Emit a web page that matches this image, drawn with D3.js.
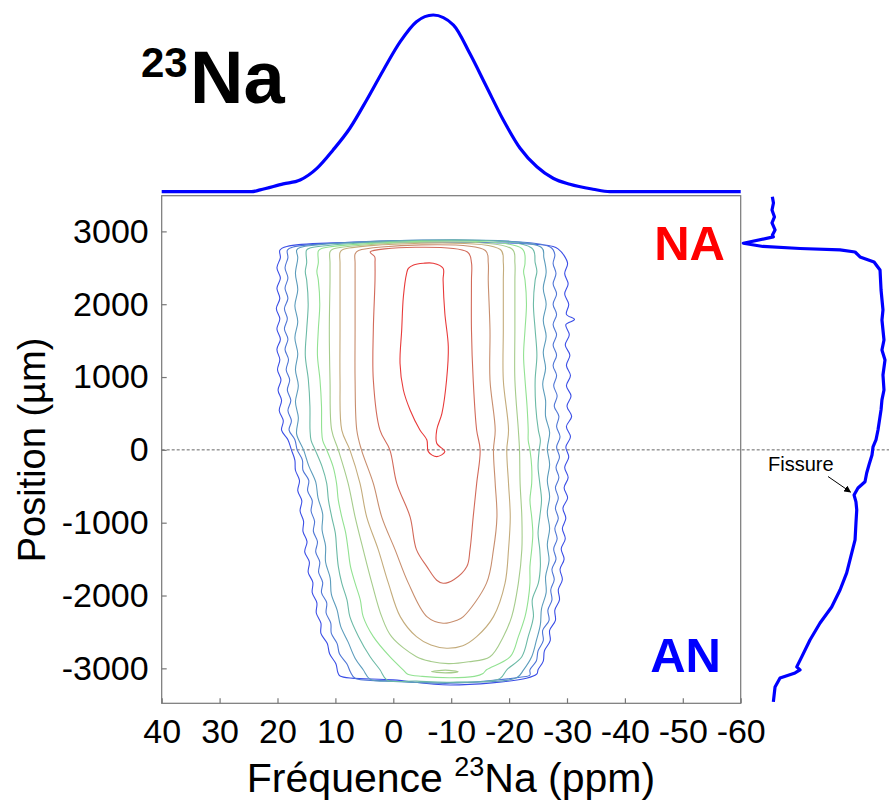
<!DOCTYPE html>
<html><head><meta charset="utf-8">
<script src="https://cdn.jsdelivr.net/npm/d3@7"></script>
<style>body{margin:0;background:#fff} svg{display:block} text{font-family:"Liberation Sans",Arial,sans-serif}</style>
</head><body><svg id="c" width="889" height="801"></svg>
<script>
// ---------- DATA ----------
const xTicks = [40, 30, 20, 10, 0, -10, -20, -30, -40, -50, -60];
const yTicks = [3000, 2000, 1000, 0, -1000, -2000, -3000];

// top projection (23Na spectrum): chemical shift (ppm) vs intensity
const specPpm = [40, 24.5, 23.0, 19.0, 16.1, 13.2, 10.4, 7.5, 4.6, 1.7, -1.2, -4.0, -6.9, -10.4, -13.2, -16.1, -19.0, -21.9, -24.8, -27.6, -30.5, -34.5, -37.4, -60];
const specInt = [0, 0, 1.0, 4.4, 6.6, 13.2, 23.6, 35.9, 51.9, 68.9, 84.9, 96.2, 100, 94.3, 78.3, 59.4, 40.6, 24.6, 14.1, 7.6, 4.2, 1.4, 0, 0];

// right projection: position (µm) vs integrated intensity
const profPos = [3476,3390,3294,3198,3116,3020,2951,2924,2837,2793,2765,2745,2717,2649,2580,2470,2195,1921,1783,1509,1372,1234,1028,822,686,549,273,136,40,-70,-209,-317,-437,-523,-619,-715,-825,-1004,-1237,-1690,-1924,-2157,-2377,-2610,-2843,-2980,-3022,-3063,-3132,-3255,-3461];
const profInt = [0.3,1.3,0,2.2,0,2.7,0.4,1.2,-25.4,-8.0,24.8,60.2,73.5,77.9,90.3,95.6,96.5,98.2,97.3,99.1,97.3,100,98.2,99.1,97.3,96.5,93.8,92.0,89.4,88.5,85.8,83.8,82.3,76.1,72.6,74.3,75.0,74.3,73.5,66.1,60.2,52.8,42.5,33.6,26.3,21.9,24.8,20.4,7.1,2.7,1.2];

// contour lines, outermost (level 1) to innermost (level 10): [ppm, µm]
const contour1 = [[18.4,2793],[19.6,2740],[19.5,2640],[20.1,2500],[19.5,2360],[20.1,2220],[19.6,2080],[20.2,1940],[19.6,1800],[20.1,1660],[19.5,1520],[20.1,1380],[19.6,1240],[20.0,1100],[19.4,960],[19.9,820],[19.3,680],[19.7,540],[19.0,400],[19.3,270],[18.2,140],[17.6,0],[17.0,-140],[16.9,-280],[16.2,-420],[16.5,-560],[15.8,-700],[16.1,-840],[15.5,-980],[15.6,-1120],[14.9,-1260],[15.3,-1400],[14.5,-1540],[14.7,-1680],[13.9,-1820],[14.0,-1960],[13.2,-2100],[13.3,-2240],[12.5,-2380],[12.5,-2520],[11.4,-2660],[11.0,-2800],[9.9,-2940],[9.6,-3050],[9.2,-3105],[0,-3159],[-9.8,-3228],[-23.0,-3136],[-24.8,-3077],[-25.0,-3020],[-25.9,-2900],[-26.1,-2760],[-27.1,-2620],[-27.0,-2480],[-28.0,-2340],[-27.9,-2200],[-28.7,-2060],[-28.5,-1920],[-29.2,-1780],[-28.8,-1640],[-29.5,-1500],[-29.0,-1360],[-29.7,-1220],[-29.2,-1080],[-29.8,-940],[-29.3,-800],[-30.1,-660],[-29.5,-520],[-30.2,-380],[-29.6,-240],[-30.3,-100],[-29.8,40],[-30.6,180],[-29.9,320],[-30.8,460],[-30.0,600],[-30.7,740],[-29.9,880],[-30.6,1020],[-29.9,1160],[-30.5,1300],[-29.7,1440],[-30.4,1580],[-29.8,1720],[-31.3,1790],[-29.9,1860],[-30.3,2000],[-29.6,2140],[-30.2,2280],[-29.6,2420],[-30.1,2560],[-29.4,2680],[-28.6,2750],[-27.6,2793]];
const contour2 = [[17.3,2786],[18.3,2740],[18.2,2640],[18.7,2500],[18.2,2360],[18.7,2220],[18.2,2080],[18.8,1940],[18.3,1800],[18.8,1660],[18.2,1520],[18.7,1380],[18.1,1240],[18.5,1100],[17.9,960],[18.3,820],[17.7,680],[18.2,540],[17.6,400],[18.0,270],[17.0,140],[16.6,0],[15.7,-140],[15.6,-280],[14.6,-420],[14.8,-560],[14.0,-700],[14.2,-840],[13.6,-980],[13.8,-1120],[13.1,-1260],[13.4,-1400],[12.7,-1540],[12.9,-1680],[12.2,-1820],[12.4,-1960],[11.5,-2100],[11.6,-2240],[10.8,-2380],[10.7,-2520],[9.7,-2660],[9.3,-2800],[8.0,-2940],[7.4,-3050],[6.6,-3136],[0,-3173],[-9.8,-3205],[-21.9,-3122],[-23.6,-3091],[-23.6,-3020],[-24.7,-2900],[-25.0,-2760],[-25.9,-2620],[-25.8,-2480],[-26.9,-2340],[-26.7,-2200],[-27.4,-2060],[-27.2,-1920],[-27.8,-1780],[-27.4,-1640],[-28.1,-1500],[-27.7,-1360],[-28.3,-1220],[-27.9,-1080],[-28.5,-940],[-28.0,-800],[-28.5,-660],[-28.0,-520],[-28.6,-380],[-28.1,-240],[-28.7,-100],[-28.2,40],[-28.8,180],[-28.2,320],[-28.6,460],[-27.8,600],[-28.3,740],[-27.7,880],[-28.2,1020],[-27.6,1160],[-28.2,1300],[-27.6,1440],[-28.2,1580],[-27.6,1720],[-28.2,1860],[-27.6,2000],[-28.2,2140],[-27.6,2280],[-28.1,2420],[-27.6,2560],[-27.9,2680],[-27.1,2786]];
const contour3 = [[16.1,2779],[16.7,2740],[16.5,2640],[16.9,2420],[16.5,2200],[17.0,1980],[16.5,1760],[17.0,1540],[16.5,1320],[16.9,1100],[16.4,880],[16.9,660],[16.4,440],[16.7,220],[15.5,0],[14.6,-220],[13.4,-440],[13.0,-660],[12.2,-880],[12.3,-1100],[11.7,-1320],[11.7,-1540],[10.9,-1760],[10.7,-1980],[9.7,-2200],[9.1,-2420],[7.8,-2640],[6.6,-2860],[5.2,-3020],[4.0,-3150],[0,-3180],[-9.8,-3195],[-21.3,-3130],[-22.5,-3020],[-23.9,-2840],[-24.7,-2620],[-25.4,-2400],[-25.6,-2180],[-26.4,-1960],[-26.3,-1740],[-26.9,-1520],[-26.6,-1300],[-27.0,-1080],[-26.6,-860],[-27.0,-640],[-26.6,-420],[-27.0,-200],[-26.6,20],[-27.0,240],[-26.3,460],[-26.3,680],[-25.8,900],[-26.3,1120],[-25.9,1340],[-26.4,1560],[-25.9,1780],[-26.4,2000],[-25.9,2220],[-26.4,2440],[-26.0,2640],[-25.6,2779]];
const contour4 = [[14.4,2772],[15.0,2740],[14.96,2570],[15.2,2450],[14.96,2330],[14.7,2000],[14.96,1650],[15.2,1300],[14.67,960],[14.4,600],[14.38,270],[14.2,130],[13.5,0],[12.3,-230],[11.5,-460],[11.2,-690],[10.64,-920],[10.0,-1150],[9.78,-1370],[9.5,-1600],[8.9,-1830],[8.0,-2060],[7.5,-2290],[6.0,-2565],[4.0,-2840],[2.3,-3020],[1.1,-3159],[-4,-3175],[-9.8,-3190],[-18.4,-3141],[-19.6,-3020],[-22.2,-2840],[-23.3,-2565],[-24.2,-2290],[-24.0,-2060],[-25.05,-1830],[-25.4,-1600],[-25.3,-1370],[-25.0,-1150],[-25.3,-920],[-25.6,-690],[-25.3,-460],[-25.0,-230],[-25.2,0],[-25.4,130],[-25.05,270],[-24.6,600],[-24.5,960],[-24.8,1300],[-24.5,1650],[-24.2,2000],[-24.5,2330],[-24.8,2450],[-24.5,2570],[-23.9,2772]];
const contour5 = [[12.4,2765],[12.95,2730],[12.95,2570],[13.2,2450],[12.95,2330],[12.7,2000],[12.95,1650],[13.1,1300],[12.66,960],[12.4,600],[12.37,270],[12.2,130],[11.5,0],[10.4,-230],[9.8,-460],[9.5,-690],[8.9,-920],[8.2,-1150],[7.8,-1370],[7.4,-1600],[6.6,-1830],[5.7,-2060],[5.2,-2290],[3.45,-2565],[0.6,-2840],[-1.7,-3020],[-2.5,-3080],[-5,-3110],[-9.8,-3130],[-14,-3110],[-15.5,-3070],[-16.1,-3020],[-20.2,-2840],[-21.6,-2565],[-22.75,-2290],[-23.3,-2060],[-23.6,-1830],[-23.6,-1600],[-23.9,-1370],[-24.1,-1150],[-23.9,-920],[-23.6,-690],[-23.9,-460],[-23.9,-230],[-23.6,0],[-23.3,130],[-23.3,270],[-23.1,600],[-22.75,960],[-22.5,1300],[-22.75,1650],[-23.0,2000],[-22.75,2330],[-22.5,2450],[-22.75,2570],[-22.2,2765]];
const contour6 = [[10.4,2758],[10.93,2720],[10.93,2570],[10.93,2330],[11.05,1650],[10.93,960],[10.64,270],[9.5,0],[7.8,-460],[6.6,-920],[5.2,-1370],[3.7,-1830],[2.0,-2290],[0.3,-2565],[-4.0,-2840],[-6.5,-2905],[-9.5,-2935],[-13,-2910],[-16.7,-2840],[-19.0,-2565],[-20.45,-2290],[-21.6,-1830],[-22.2,-1370],[-22.2,-920],[-21.9,-460],[-21.8,0],[-21.6,270],[-21.0,960],[-21.0,1650],[-21.0,2330],[-21.0,2570],[-20.5,2758]];
const contour7 = [[8.7,2751],[9.2,2710],[9.2,2570],[9.2,2330],[9.2,1650],[9.2,960],[8.9,270],[7.5,0],[5.75,-460],[4.6,-920],[2.6,-1370],[0.85,-1830],[-1.2,-2290],[-4.0,-2565],[-6.5,-2680],[-9.2,-2724],[-12,-2690],[-14.4,-2565],[-17.3,-2290],[-19.3,-1830],[-19.9,-1370],[-20.2,-920],[-19.9,-460],[-19.6,0],[-19.9,270],[-19.0,960],[-19.0,1650],[-19.0,2330],[-19.0,2570],[-18.5,2751]];
const contour8 = [[6.0,2738],[6.6,2690],[6.6,2570],[6.6,2330],[6.6,1650],[6.6,960],[6.3,270],[5.5,0],[3.45,-460],[2.0,-920],[-0.3,-1370],[-2.6,-1830],[-5.8,-2290],[-8.6,-2381],[-11,-2340],[-12.1,-2290],[-16.1,-1830],[-17.3,-1370],[-17.9,-920],[-17.6,-460],[-17.3,0],[-17.6,270],[-16.7,960],[-16.7,1650],[-16.4,2330],[-16.4,2570],[-15.9,2738]];
const contour9 = [[4.0,2717],[3.2,2650],[3.16,2570],[3.16,2330],[3.45,1650],[3.45,960],[2.3,270],[0.6,0],[-0.6,-460],[-2.9,-920],[-4.0,-1370],[-5.8,-1603],[-7.5,-1790],[-8.6,-1832],[-10.5,-1780],[-12.7,-1603],[-13.25,-1370],[-13.8,-920],[-14.4,-460],[-15.0,0],[-14.4,270],[-13.8,960],[-13.5,1650],[-13.5,2330],[-13.5,2570],[-12.8,2717]];
const contour10 = [[-2.6,2493],[-2.3,2425],[-1.74,2103],[-1.45,1646],[-1.16,1189],[-1.74,822],[-2.9,548],[-4.6,273],[-5.8,136],[-6.05,-24],[-7.5,-93],[-8.9,-24],[-7.5,91],[-7.5,273],[-8.4,502],[-9.2,960],[-9.5,1417],[-8.9,1875],[-8.6,2333],[-8.6,2493],[-6.9,2562],[-5.2,2562],[-3.5,2539]];
const contourIsland = [[-6.6,-3045],[-9,-3025],[-11.2,-3045],[-9,-3062]];

const contourLines = [contour1, contour2, contour3, contour4, contour5, contour6, contour7, contour8, contour9, contour10];
const contourColors = ["#3b4ee6","#4f76d6","#5c9cbc","#6cbaa6","#92e292","#a6cc8c","#c4ac7c","#c88e6e","#d26a5a","#e83a3a"];

// ---------- DRAWING ----------
const svg = d3.select("#c");
const W = 889, H = 801;
svg.append("rect").attr("width", W).attr("height", H).attr("fill", "#fff");

const x = d3.scaleLinear().domain([40, -60]).range([161.7, 740.7]);
const y = d3.scaleLinear().domain([-3480, 3490]).range([703.3, 195.7]);
const ySpec = d3.scaleLinear().domain([0, 100]).range([191.7, 15]);
const xProf = d3.scaleLinear().domain([0, 100]).range([772, 885]);

// frame
svg.append("rect").attr("x", x(40)).attr("y", y(3490))
  .attr("width", x(-60) - x(40)).attr("height", y(-3480) - y(3490))
  .attr("fill", "none").attr("stroke", "#777").attr("stroke-width", 1.2);

// zero dashed line
svg.append("line").attr("x1", x(40)).attr("x2", 889).attr("y1", y(0)).attr("y2", y(0))
  .attr("stroke", "#666").attr("stroke-width", 1).attr("stroke-dasharray", "3,2");

// contours
const cLine = d3.line().x(d => x(d[0])).y(d => y(d[1])).curve(d3.curveCatmullRomClosed.alpha(0.5));
const cg = svg.append("g").attr("fill", "none").attr("stroke-width", 1.1).attr("stroke-linejoin", "round");
contourLines.forEach((pts, i) => {
  cg.append("path").attr("d", cLine(pts)).attr("stroke", contourColors[i]);
});
cg.append("path").attr("d", cLine(contourIsland)).attr("stroke", contourColors[5]);

// axes
const fmt = d => String(d);
const ax = svg.append("g").attr("transform", `translate(0,${y(-3480)})`)
  .call(d3.axisBottom(x).tickValues(xTicks).tickFormat(fmt).tickSize(-5).tickPadding(16));
const ay = svg.append("g").attr("transform", `translate(${x(40)},0)`)
  .call(d3.axisLeft(y).tickValues(yTicks).tickFormat(fmt).tickSize(-5).tickPadding(13));
[ax, ay].forEach(g => {
  g.select(".domain").remove();
  g.selectAll(".tick line").attr("stroke", "#777").attr("stroke-width", 1.2);
  g.selectAll(".tick text").attr("fill", "#000").attr("font-size", 34)
    .attr("font-family", '"Liberation Sans",Arial,sans-serif');
});

// top spectrum
const specLine = d3.line().x((d, i) => x(specPpm[i])).y((d, i) => ySpec(specInt[i])).curve(d3.curveMonotoneX);
svg.append("path").attr("d", specLine(specPpm)).attr("fill", "none")
  .attr("stroke", "#0000ff").attr("stroke-width", 3.2).attr("stroke-linejoin", "round");

// right profile
const profLine = d3.line().x((d, i) => xProf(profInt[i])).y((d, i) => y(profPos[i]));
svg.append("path").attr("d", profLine(profPos)).attr("fill", "none")
  .attr("stroke", "#0000ff").attr("stroke-width", 3.2).attr("stroke-linejoin", "round");

// Fissure annotation
svg.append("defs").append("marker").attr("id", "ah").attr("viewBox", "0 0 10 10")
  .attr("refX", 9).attr("refY", 5).attr("markerWidth", 7).attr("markerHeight", 7)
  .attr("orient", "auto").attr("markerUnits", "userSpaceOnUse")
  .append("path").attr("d", "M0,0 L10,5 L0,10 z").attr("fill", "#000");
svg.append("line").attr("x1", 828).attr("y1", 476.5).attr("x2", 850.5).attr("y2", 492)
  .attr("stroke", "#000").attr("stroke-width", 1).attr("marker-end", "url(#ah)");
svg.append("text").attr("x", 768).attr("y", 471).attr("font-size", 20).text("Fissure");

// NA / AN labels
svg.append("text").attr("x", 725).attr("y", 260).attr("text-anchor", "end")
  .attr("font-size", 49).attr("font-weight", "bold").attr("fill", "#ff0000").text("NA");
svg.append("text").attr("x", 721).attr("y", 671.7).attr("text-anchor", "end")
  .attr("font-size", 49).attr("font-weight", "bold").attr("fill", "#0000ff").text("AN");

// title
svg.append("text").attr("x", 141).attr("y", 76.7).attr("font-size", 42).attr("font-weight", "bold").text("23");
svg.append("text").attr("x", 190).attr("y", 103.3).attr("font-size", 74).attr("font-weight", "bold").text("Na");

// axis titles
const xl = svg.append("text").attr("x", 451).attr("y", 792).attr("text-anchor", "middle").attr("font-size", 41);
xl.append("tspan").text("Fréquence ");
xl.append("tspan").attr("font-size", 27).attr("dy", -16).text("23");
xl.append("tspan").attr("dy", 16).text("Na (ppm)");

svg.append("text").attr("transform", "translate(45,450) rotate(-90)").attr("text-anchor", "middle")
  .attr("font-size", 38).text("Position (µm)");
</script></body></html>
